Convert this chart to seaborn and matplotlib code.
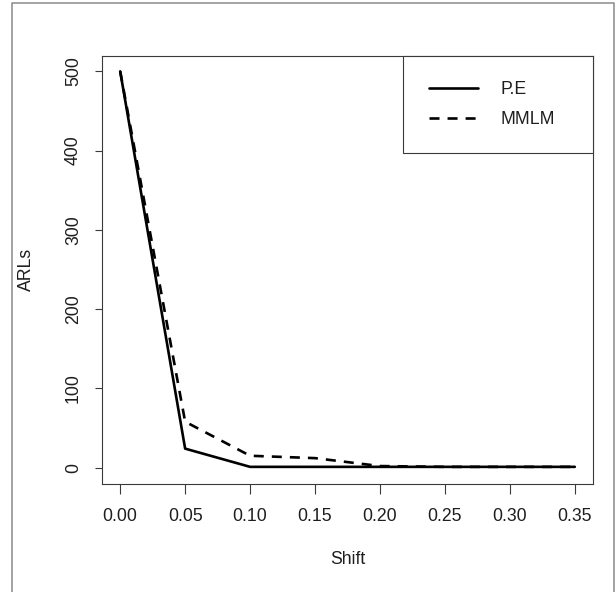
import matplotlib
matplotlib.use("Agg")
import matplotlib.pyplot as plt
from matplotlib.lines import Line2D
import pandas as pd
import seaborn as sns

# Shift levels and the average run lengths of the two charts
shift = [0.00, 0.05, 0.10, 0.15, 0.20, 0.25, 0.30, 0.35]
arl_pe = [500, 24, 1, 1, 1, 1, 1, 1]
arl_mmlm = [500, 58, 15, 12, 2, 1, 1, 1]
methods = ["P.E", "MMLM"]

x_ticks = [0.00, 0.05, 0.10, 0.15, 0.20, 0.25, 0.30, 0.35]
x_tick_labels = ["0.00", "0.05", "0.10", "0.15", "0.20", "0.25", "0.30", "0.35"]
y_ticks = [0, 100, 200, 300, 400, 500]
y_tick_labels = ["0", "100", "200", "300", "400", "500"]

sns.set_style("white")
plt.rcParams["font.family"] = ["Liberation Sans", "DejaVu Sans"]
plt.rcParams["lines.scale_dashes"] = False

ink = "#1e1e1e"
frame = "#3a3a3a"

df = pd.DataFrame({
    "Shift": shift * 2,
    "ARLs": arl_pe + arl_mmlm,
    "Method": [methods[0]] * len(shift) + [methods[1]] * len(shift),
})

fig = plt.figure(figsize=(6.15, 5.92), dpi=100)
ax = fig.add_axes([102 / 615, 1 - 483.5 / 592, 491 / 615, 428 / 592])

sns.lineplot(
    data=df, x="Shift", y="ARLs", style="Method", style_order=methods,
    dashes={"P.E": "", "MMLM": (7.2, 5.8)},
    color="black", linewidth=1.9, legend=False, ax=ax,
)

ax.set_xlim(-0.014, 0.364)
ax.set_ylim(-20, 520)
ax.set_xticks(x_ticks)
ax.set_xticklabels(x_tick_labels)
ax.set_yticks(y_ticks)
ax.set_yticklabels(y_tick_labels, rotation=90, va="center")

fs = 12.7
ax.tick_params(axis="x", length=7.2, width=0.8, color=frame, pad=10.5,
               labelsize=fs, labelcolor=ink, direction="out", bottom=True)
ax.tick_params(axis="y", length=5.0, width=0.8, color=frame, pad=9.5,
               labelsize=fs, labelcolor=ink, direction="out", left=True)
for sp in ax.spines.values():
    sp.set_visible(True)
    sp.set_color(frame)
    sp.set_linewidth(0.8)

ax.set_xlabel("Shift", fontsize=fs, color=ink, va="center")
ax.set_ylabel("ARLs", fontsize=fs, color=ink, va="center")
ax.xaxis.set_label_coords(0.5, (483.5 - 560) / 428)
ax.yaxis.set_label_coords((26 - 102) / 491, 0.5)

handles = ax.get_lines()[:2]
x0 = (403 - 102) / 491
leg = ax.legend(
    handles, methods, loc="upper left",
    bbox_to_anchor=(x0, 0.5, 1 - x0, 0.5), mode="expand",
    borderaxespad=0, fontsize=fs, frameon=True, fancybox=False,
    framealpha=1, edgecolor=frame, borderpad=1.45, labelspacing=0.72,
    handlelength=2.83, handletextpad=1.25,
)
leg.get_frame().set_linewidth(0.8)
for t in leg.get_texts():
    t.set_color(ink)

# thin grey border around the figure
grey = "#8a8a8a"
L, R, T = 12.3 / 615, 613.6 / 615, 1 - 3.3 / 592
fig.add_artist(Line2D([L, L, R, R], [0, T, T, 0], transform=fig.transFigure,
                      color=grey, linewidth=1.1))

fig.savefig("out.png", dpi=100)
